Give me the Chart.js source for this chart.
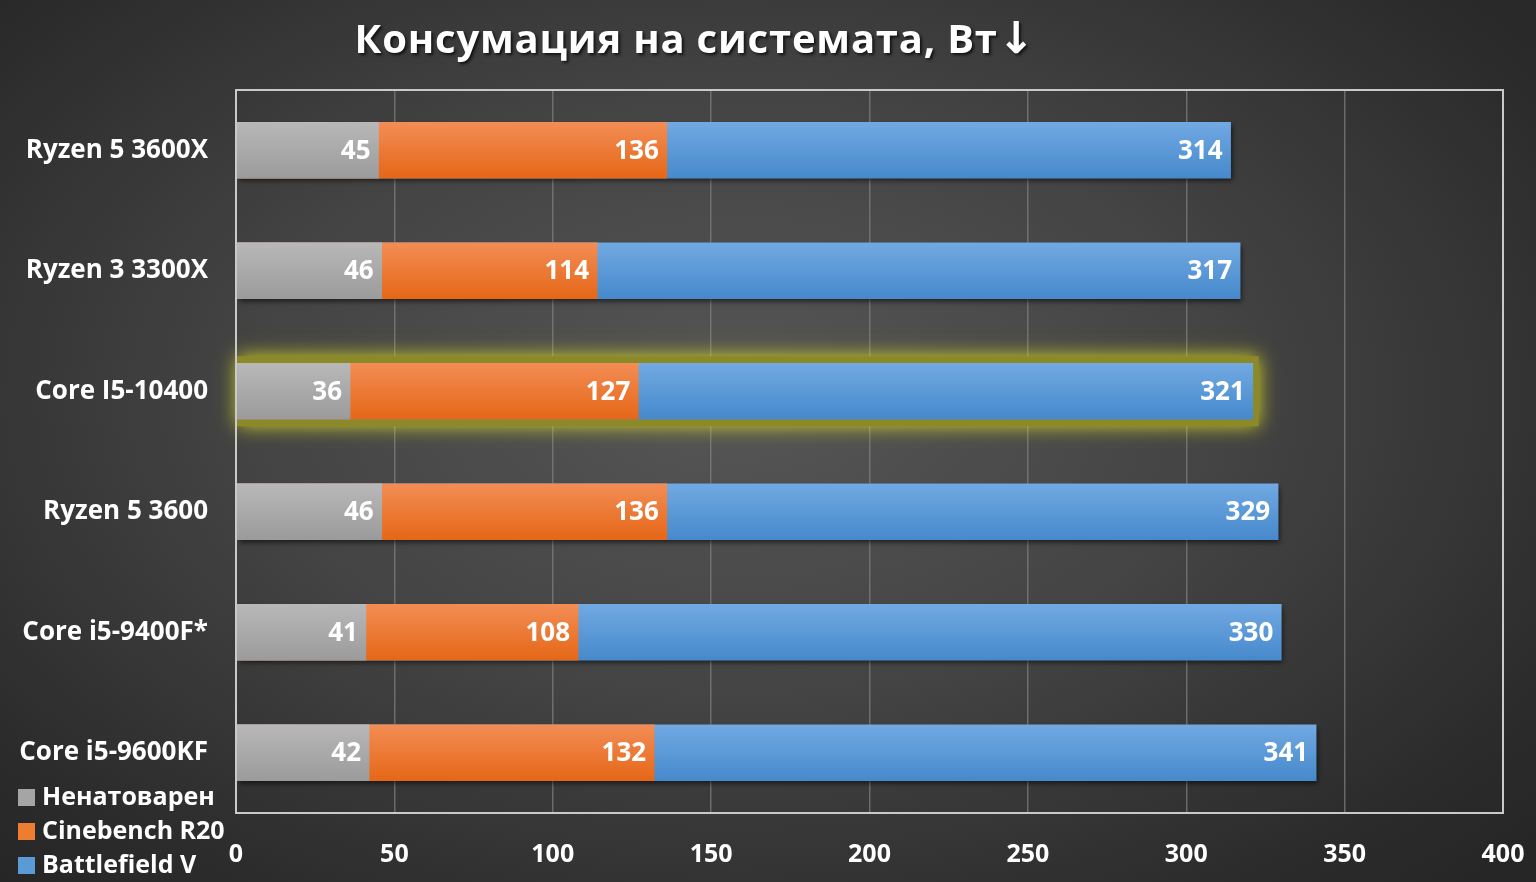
<!DOCTYPE html>
<html>
<head>
<meta charset="utf-8">
<script src="https://cdn.jsdelivr.net/npm/chart.js@4"></script>
<style>
  html, body { margin: 0; padding: 0; }
  body {
    width: 1536px; height: 882px; overflow: hidden; position: relative;
    background: radial-gradient(ellipse 70% 75% at 48% 45%, #565656 0%, #444 45%, #2c2c2c 85%, #262626 100%);
    font-family: "Open Sans", sans-serif;
  }
  #chartPower { position: absolute; left: 0; top: 0; }
  #title {
    position: absolute; left: 0; top: 10px; width: 1390px; text-align: center;
    color: #fff; font-size: 40px; font-weight: 700; letter-spacing: 0.8px;
    text-shadow: 2px 2px 3px rgba(0,0,0,0.7);
  }
  #title .arrow { font-family: "DejaVu Sans", sans-serif; font-size: 44px; }
  #legend { position: absolute; left: 18px; top: 778px; color: #fff; font-weight: 700; font-size: 25px; }
  #legend div { height: 34px; line-height: 34px; white-space: nowrap; }
  #legend span.box { display: inline-block; width: 17px; height: 17px; margin-right: 7px; vertical-align: -1px; }
</style>
</head>
<body>
<canvas id="chartPower" width="1536" height="882"></canvas>
<div id="title">Консумация на системата, Вт<span class="arrow">↓</span></div>
<div id="legend"></div>

<script>
// Data
const cpuLabels = ['Ryzen 5 3600X', 'Ryzen 3 3300X', 'Core I5-10400', 'Ryzen 5 3600', 'Core i5-9400F*', 'Core i5-9600KF'];
const seriesNames = ['Ненатоварен', 'Cinebench R20', 'Battlefield V'];
const idleValues = [45, 46, 36, 46, 41, 42];
const cinebenchValues = [136, 114, 127, 136, 108, 132];
const battlefieldValues = [314, 317, 321, 329, 330, 341];
const xTicks = [0, 50, 100, 150, 200, 250, 300, 350, 400];
const highlightIndex = 2;

const BAR_H = 56;
const FONT = '"Open Sans", sans-serif';

// colours: [top, bottom, flat]
const palette = [
  ['#b8b8b8', '#9b9b9b', '#a5a5a5'],
  ['#f38d55', '#e56717', '#ed7d31'],
  ['#71a9e2', '#4689cc', '#5b9bd5']
];

// vertical gradient for each bar
function barGradient(context, colors) {
  const chart = context.chart;
  const yScale = chart.scales.y;
  if (!chart.chartArea || !yScale) return colors[2];
  const y = yScale.getPixelForValue(context.dataIndex);
  const g = chart.ctx.createLinearGradient(0, y - BAR_H / 2, 0, y + BAR_H / 2);
  g.addColorStop(0, colors[0]);
  g.addColorStop(1, colors[1]);
  return g;
}

// shadows, glow, frame and value labels
const underBars = {
  id: 'underBars',
  beforeDatasetsDraw(chart) {
    const ctx = chart.ctx;
    const blue = chart.getDatasetMeta(2).data;
    ctx.save();
    blue.forEach((el, i) => {
      const left = el.base;
      const top = el.y - BAR_H / 2;
      if (i === highlightIndex) {
        ctx.shadowColor = 'rgba(215,215,40,0.95)';
        ctx.shadowBlur = 18;
        ctx.shadowOffsetX = 0;
        ctx.shadowOffsetY = 0;
        ctx.fillStyle = 'rgba(140,138,40,1)';
        ctx.fillRect(left, top - 7, el.x - left + 6, BAR_H + 14);
      } else {
        ctx.shadowColor = 'rgba(0,0,0,0.6)';
        ctx.shadowBlur = 5;
        ctx.shadowOffsetX = 2;
        ctx.shadowOffsetY = 3;
        ctx.fillStyle = '#333';
        ctx.fillRect(left, top, el.x - left, BAR_H);
      }
    });
    ctx.restore();
  },
  afterDatasetsDraw(chart) {
    const ctx = chart.ctx;
    const area = chart.chartArea;
    ctx.save();
    // plot frame
    ctx.strokeStyle = '#c9c9c9';
    ctx.lineWidth = 2;
    ctx.strokeRect(area.left, area.top, area.right - area.left, area.bottom - area.top);
    // value labels at the bar ends
    ctx.fillStyle = '#fff';
    ctx.font = 'bold 26px ' + FONT;
    ctx.textAlign = 'right';
    ctx.textBaseline = 'middle';
    chart.data.datasets.forEach((ds, d) => {
      chart.getDatasetMeta(d).data.forEach((el, i) => {
        ctx.fillText(ds.data[i], el.x - 8, el.y + 1);
      });
    });
    ctx.restore();
  }
};

const allValues = [idleValues, cinebenchValues, battlefieldValues];

const ctx = document.getElementById('chartPower').getContext('2d');
const powerChart = new Chart(ctx, {
  type: 'bar',
  data: {
    labels: cpuLabels,
    datasets: allValues.map((vals, d) => ({
      label: seriesNames[d],
      data: vals,
      order: d,
      grouped: false,
      barThickness: BAR_H,
      borderWidth: 0,
      backgroundColor: c => barGradient(c, palette[d])
    }))
  },
  options: {
    indexAxis: 'y',
    responsive: false,
    maintainAspectRatio: false,
    animation: false,
    devicePixelRatio: 1,
    layout: { padding: { left: 0, top: 90, right: 33, bottom: 0 } },
    plugins: {
      legend: { display: false },
      tooltip: { enabled: false },
      title: { display: false }
    },
    scales: {
      x: {
        min: 0,
        max: 400,
        afterBuildTicks: scale => { scale.ticks = xTicks.map(v => ({ value: v })); },
        afterFit: scale => {
          scale.height = 69;
          scale.paddingLeft = 0;
          scale.paddingRight = 0;
        },
        grid: { color: 'rgba(130,130,130,0.7)', lineWidth: 1.5, drawTicks: false },
        border: { display: false },
        ticks: { color: '#fff', padding: 27, font: { family: FONT, size: 25, weight: 'bold' } }
      },
      y: {
        afterFit: scale => { scale.width = 236; },
        grid: { display: false },
        border: { display: false },
        ticks: { color: '#fff', padding: 20, font: { family: FONT, size: 26, weight: 'bold' } }
      }
    }
  },
  plugins: [underBars]
});

// legend in the lower left corner
const legendBox = document.getElementById('legend');
seriesNames.forEach((name, d) => {
  const row = document.createElement('div');
  row.innerHTML = '<span class="box" style="background:' + palette[d][2] + '"></span>' + name;
  legendBox.appendChild(row);
});
</script>
</body>
</html>
